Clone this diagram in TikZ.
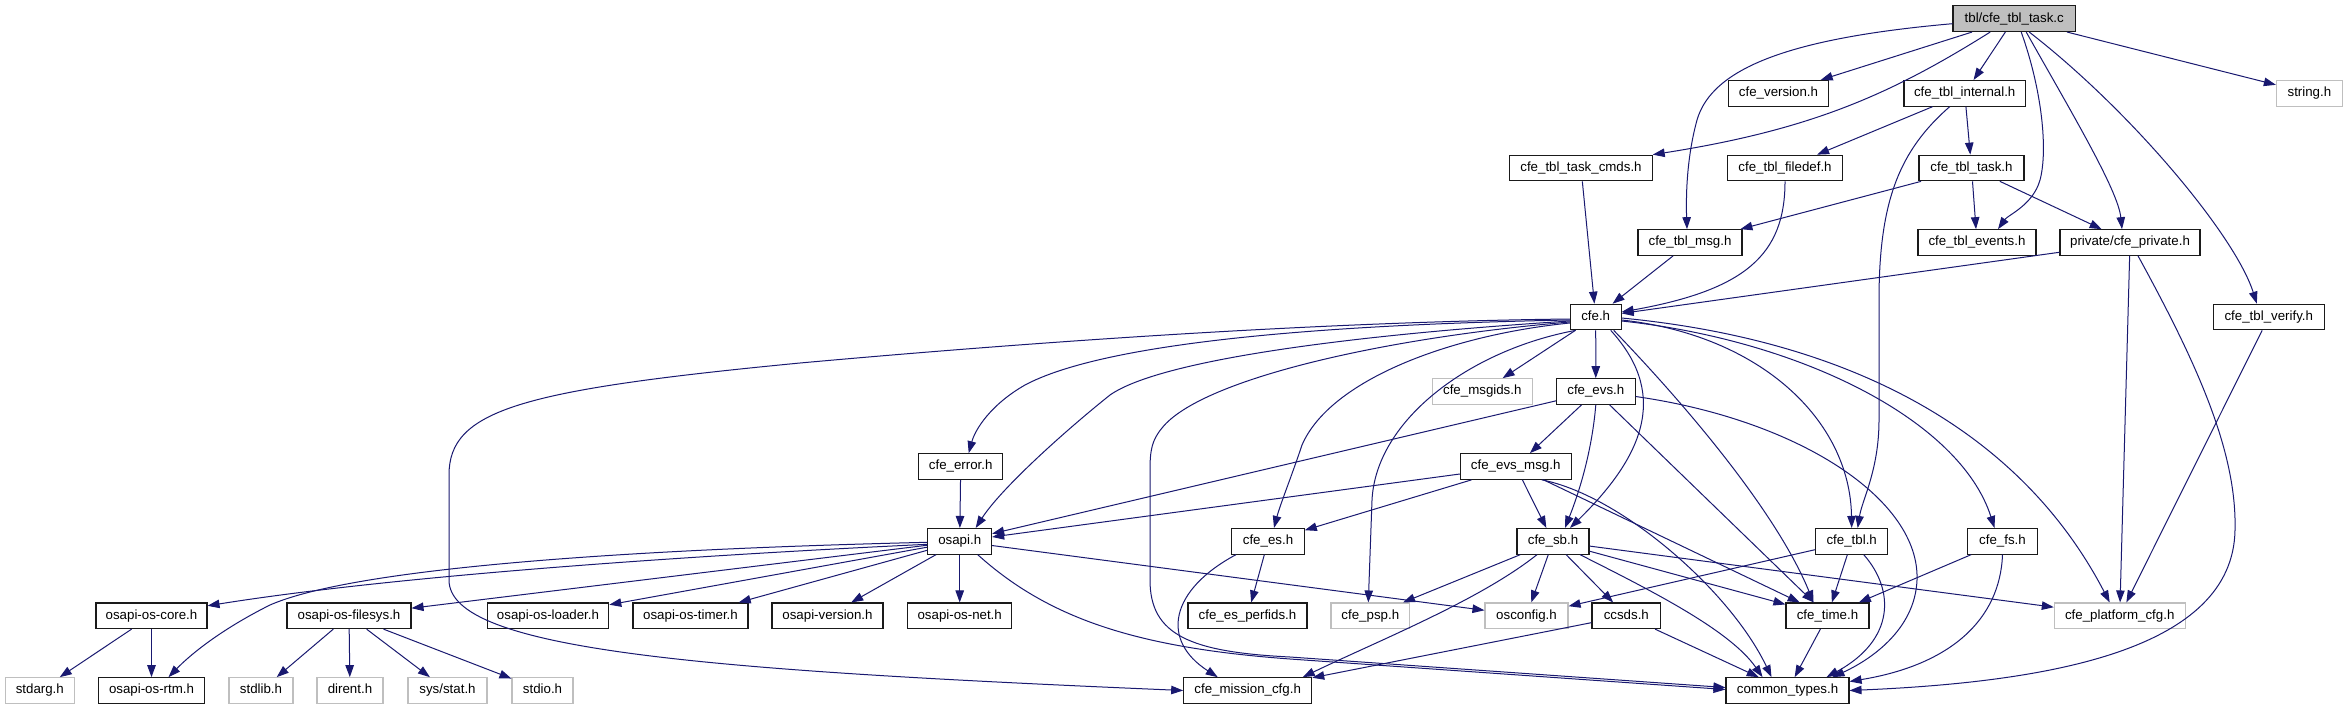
\documentclass[tikz,border=0pt]{standalone}
\usepackage{fontspec}
\setmainfont{Liberation Sans}
\usetikzlibrary{arrows.meta}
\definecolor{edgecol}{HTML}{191970}
\definecolor{lgray}{HTML}{BFBFBF}
\definecolor{bord}{HTML}{1A1A1A}
\begin{document}
\begin{tikzpicture}[x=1pt,y=-1pt,
 box/.style={draw=bord, line width=1.1pt, minimum height=25.6pt, inner sep=0pt, text height=9.6pt, text depth=2.8pt, font=\fontsize{13.3}{16}\selectfont},
 ext/.style={box, draw=lgray},
 root/.style={box, fill=lgray},
 dep/.style={draw=edgecol, line width=1pt, -{Triangle[length=12pt,width=8.5pt]}}]
\fill[white] (0,0) rectangle (2347,709);
\useasboundingbox (0,0) rectangle (2347,709);
% rank 0
\node[root, minimum width=122.5pt] (task) at (2014.2,18.7) {tbl/cfe\_tbl\_task.c};
% rank 1
\node[box, minimum width=100pt] (version) at (1778.5,93.3) {cfe\_version.h};
\node[box, minimum width=121.5pt] (internal) at (1964.7,93.3) {cfe\_tbl\_internal.h};
\node[ext, minimum width=66pt] (string) at (2309.4,93.3) {string.h};
% rank 2
\node[box, minimum width=142.3pt] (cmds) at (1581,168) {cfe\_tbl\_task\_cmds.h};
\node[box, minimum width=114.6pt] (filedef) at (1785,168) {cfe\_tbl\_filedef.h};
\node[box, minimum width=105pt] (tasksh) at (1971.5,168) {cfe\_tbl\_task.h};
% rank 3
\node[box, minimum width=104pt] (msg) at (1690,242.5) {cfe\_tbl\_msg.h};
\node[box, minimum width=118pt] (events) at (1977,242.5) {cfe\_tbl\_events.h};
\node[box, minimum width=140pt] (private) at (2130,242.5) {private/cfe\_private.h};
% rank 4
\node[box, minimum width=50.7pt] (cfe) at (1595.7,317) {cfe.h};
\node[box, minimum width=110.5pt] (verify) at (2268.8,317) {cfe\_tbl\_verify.h};
% rank 5
\node[ext, minimum width=99.5pt] (msgids) at (1482.3,391.5) {cfe\_msgids.h};
\node[box, minimum width=78.5pt] (evs) at (1595.8,391.5) {cfe\_evs.h};
% rank 6
\node[box, minimum width=83.7pt] (error) at (960.7,466.5) {cfe\_error.h};
\node[box, minimum width=110.7pt] (evsmsg) at (1515.7,466.5) {cfe\_evs\_msg.h};
% rank 7
\node[box, minimum width=63.8pt] (osapi) at (959.7,541.3) {osapi.h};
\node[box, minimum width=72.5pt] (es) at (1268,541.3) {cfe\_es.h};
\node[box, minimum width=72pt] (sb) at (1553,541.3) {cfe\_sb.h};
\node[box, minimum width=72pt] (tbl) at (1851.7,541.3) {cfe\_tbl.h};
\node[box, minimum width=69.5pt] (fs) at (2002.5,541.3) {cfe\_fs.h};
% rank 8
\node[box, minimum width=111pt] (core) at (151.5,615.8) {osapi-os-core.h};
\node[box, minimum width=124pt] (filesys) at (349,615.8) {osapi-os-filesys.h};
\node[box, minimum width=121.5pt] (loader) at (548,615.8) {osapi-os-loader.h};
\node[box, minimum width=115pt] (timer) at (690.5,615.8) {osapi-os-timer.h};
\node[box, minimum width=111pt] (osversion) at (827.5,615.8) {osapi-version.h};
\node[box, minimum width=104pt] (osnet) at (959.7,615.8) {osapi-os-net.h};
\node[box, minimum width=119pt] (perfids) at (1247.5,615.8) {cfe\_es\_perfids.h};
\node[ext, minimum width=78.7pt] (psp) at (1370.3,615.8) {cfe\_psp.h};
\node[ext, minimum width=83pt] (osconfig) at (1526.5,615.8) {osconfig.h};
\node[box, minimum width=68.7pt] (ccsds) at (1626.3,615.8) {ccsds.h};
\node[box, minimum width=83pt] (time) at (1827.5,615.8) {cfe\_time.h};
\node[ext, minimum width=130.7pt] (platform) at (2119.7,615.8) {cfe\_platform\_cfg.h};
% rank 9
\node[ext, minimum width=69.5pt] (stdarg) at (39.8,690.5) {stdarg.h};
\node[box, minimum width=106pt] (rtm) at (151.5,690.5) {osapi-os-rtm.h};
\node[ext, minimum width=64pt] (stdlib) at (261,690.5) {stdlib.h};
\node[ext, minimum width=66pt] (dirent) at (350,690.5) {dirent.h};
\node[ext, minimum width=79pt] (sysstat) at (447.5,690.5) {sys/stat.h};
\node[ext, minimum width=61pt] (stdio) at (542.5,690.5) {stdio.h};
\node[box, minimum width=128pt] (mission) at (1247.7,690.5) {cfe\_mission\_cfg.h};
\node[box, minimum width=123pt] (common) at (1787.5,690.5) {common\_types.h};

% ---- edges from tbl/cfe_tbl_task.c
\draw[dep] ([yshift=-5pt]task.west) .. controls (1790,38) and (1712,68) .. (1697,120) .. controls (1686,160) and (1686,200) .. ([xshift=-3pt]msg.north);
\draw[dep] (task) -- (version);
\draw[dep] ([xshift=-24pt]task.south) .. controls (1890,95) and (1810,130) .. (cmds.north east);
\draw[dep] (task) -- (internal);
\draw[dep] ([xshift=7pt]task.south) .. controls (2042,90) and (2048,150) .. (2040,180) .. controls (2033,205) and (2008,215) .. ([xshift=21pt]events.north);
\draw[dep] ([xshift=12pt]task.south) .. controls (2070,110) and (2118,190) .. ([xshift=-8pt]private.north);
\draw[dep] ([xshift=15pt]task.south) .. controls (2130,110) and (2235,235) .. ([xshift=-12pt]verify.north);
\draw[dep] (task) -- (string);
% ---- cfe_tbl_internal.h
\draw[dep] (internal) -- (filedef);
\draw[dep] (internal) -- (tasksh);
\draw[dep] ([xshift=-15pt]internal.south) .. controls (1900,150) and (1879,200) .. (1879,300) -- (1879,420) .. controls (1879,470) and (1862,500) .. ([xshift=6pt]tbl.north);
% ---- rank 2 / 3
\draw[dep] (cmds) -- (cfe);
\draw[dep] (filedef.south) .. controls (1785,255) and (1745,290) .. ([yshift=5pt]cfe.east);
\draw[dep] (tasksh) -- (msg);
\draw[dep] (tasksh) -- (events);
\draw[dep] (tasksh) -- (private);
\draw[dep] (msg) -- (cfe);
\draw[dep] (private) -- (cfe);
\draw[dep] (private) -- (platform);
\draw[dep] ([xshift=8pt]private.south) .. controls (2195,360) and (2237,450) .. (2235,530) .. controls (2233,650) and (2050,682) .. (common.east);
\draw[dep] (verify) -- (platform);
% ---- cfe.h
\draw[dep] ([yshift=-2pt]cfe.west) .. controls (1300,322) and (1000,345) .. (800,363) .. controls (520,390) and (449,410) .. (449,475) -- (449,580) .. controls (449,650) and (700,670) .. (mission.west);
\draw[dep] ([yshift=-3pt]cfe.west) .. controls (1300,325) and (1100,345) .. (1025,385) .. controls (990,405) and (975,430) .. ([xshift=8pt]error.north);
\draw[dep] ([yshift=-4pt]cfe.west) .. controls (1350,335) and (1160,360) .. (1110,395) .. controls (1060,435) and (1000,490) .. ([xshift=16pt]osapi.north);
\draw[dep] ([yshift=-5pt]cfe.west) .. controls (1380,338) and (1200,380) .. (1162,428) .. controls (1152,440) and (1150,450) .. (1150,470) -- (1150,580) .. controls (1150,635) and (1190,652) .. (1290,657) -- ([yshift=3pt]common.west);
\draw[dep] ([yshift=-6pt]cfe.west) .. controls (1450,335) and (1330,380) .. (1302,445) .. controls (1292,475) and (1280,505) .. ([xshift=6pt]es.north);
\draw[dep] ([xshift=-20pt]cfe.south) .. controls (1470,350) and (1376,420) .. (1372,500) -- ([xshift=-2pt]psp.north);
\draw[dep] (cfe) -- (msgids);
\draw[dep] (cfe) -- (evs);
\draw[dep] ([xshift=15pt]cfe.south) .. controls (1665,390) and (1650,450) .. ([xshift=17pt]sb.north);
\draw[dep] ([xshift=18pt]cfe.south) .. controls (1700,420) and (1780,520) .. ([xshift=-14pt]time.north);
\draw[dep] ([yshift=-3pt]cfe.east) .. controls (1760,335) and (1850,420) .. (tbl.north);
\draw[dep] ([yshift=-4pt]cfe.east) .. controls (1800,340) and (1960,420) .. ([xshift=-8pt]fs.north);
\draw[dep] ([yshift=-1pt]cfe.east) .. controls (1850,340) and (2020,430) .. ([xshift=-10pt]platform.north);
% ---- cfe_evs.h
\draw[dep] (evs) -- (osapi);
\draw[dep] (evs) -- (evsmsg);
\draw[dep] (evs.south) .. controls (1592,450) and (1580,490) .. ([xshift=12pt]sb.north);
\draw[dep] (evs) -- (time);
\draw[dep] ([yshift=-5pt]evs.east) .. controls (1800,420) and (1920,500) .. (1917,580) .. controls (1915,630) and (1870,660) .. ([xshift=45pt]common.north);
% ---- cfe_evs_msg.h
\draw[dep] (evsmsg) -- (osapi);
\draw[dep] (evsmsg) -- (es);
\draw[dep] (evsmsg) -- (sb);
\draw[dep] (evsmsg) -- (time);
\draw[dep] ([xshift=26pt]evsmsg.south) .. controls (1620,495) and (1730,590) .. ([xshift=-16pt]common.north);
% ---- cfe_error.h
\draw[dep] (error) -- (osapi);
% ---- cfe_es.h
\draw[dep] (es) -- (perfids);
\draw[dep] ([xshift=-32pt]es.south) .. controls (1170,590) and (1160,640) .. ([xshift=-30pt]mission.north);
% ---- cfe_sb.h
\draw[dep] (sb) -- (psp);
\draw[dep] ([xshift=-16pt]sb.south) .. controls (1480,600) and (1380,640) .. ([xshift=55pt]mission.north);
\draw[dep] (sb) -- (osconfig);
\draw[dep] (sb) -- (ccsds);
\draw[dep] (sb) -- (time);
\draw[dep] ([xshift=27pt]sb.south) .. controls (1650,590) and (1730,630) .. ([xshift=-25pt]common.north);
\draw[dep] (sb) -- (platform);
% ---- cfe_tbl.h
\draw[dep] (tbl) -- (osconfig);
\draw[dep] (tbl) -- (time);
\draw[dep] ([xshift=12pt]tbl.south) .. controls (1895,590) and (1895,640) .. ([xshift=39pt]common.north);
% ---- cfe_fs.h
\draw[dep] (fs) -- (time);
\draw[dep] (fs.south) .. controls (2000,620) and (1950,665) .. ([yshift=9pt]common.east);
% ---- ccsds.h, cfe_time.h
\draw[dep] (ccsds) -- (mission);
\draw[dep] (ccsds) -- (common);
\draw[dep] (time) -- (common);
% ---- osapi.h
\draw[dep] ([yshift=-3pt]osapi.west) .. controls (700,555) and (400,575) .. ([yshift=10pt]core.east);
\draw[dep] ([yshift=-1pt]osapi.west) .. controls (600,550) and (350,570) .. (270,605) .. controls (220,630) and (190,655) .. ([xshift=17pt]rtm.north);
\draw[dep] (osapi) -- (filesys);
\draw[dep] (osapi) -- (loader);
\draw[dep] (osapi) -- (timer);
\draw[dep] (osapi) -- (osversion);
\draw[dep] (osapi) -- (osnet);
\draw[dep] (osapi) -- (osconfig);
\draw[dep] ([xshift=18pt]osapi.south) .. controls (1050,620) and (1140,648) .. (1290,659) -- ([yshift=1pt]common.west);
% ---- osapi-os-core.h, osapi-os-filesys.h
\draw[dep] (core) -- (stdarg);
\draw[dep] (core) -- (rtm);
\draw[dep] (filesys) -- (stdlib);
\draw[dep] (filesys) -- (dirent);
\draw[dep] (filesys) -- (sysstat);
\draw[dep] (filesys) -- (stdio);
\end{tikzpicture}
\end{document}
